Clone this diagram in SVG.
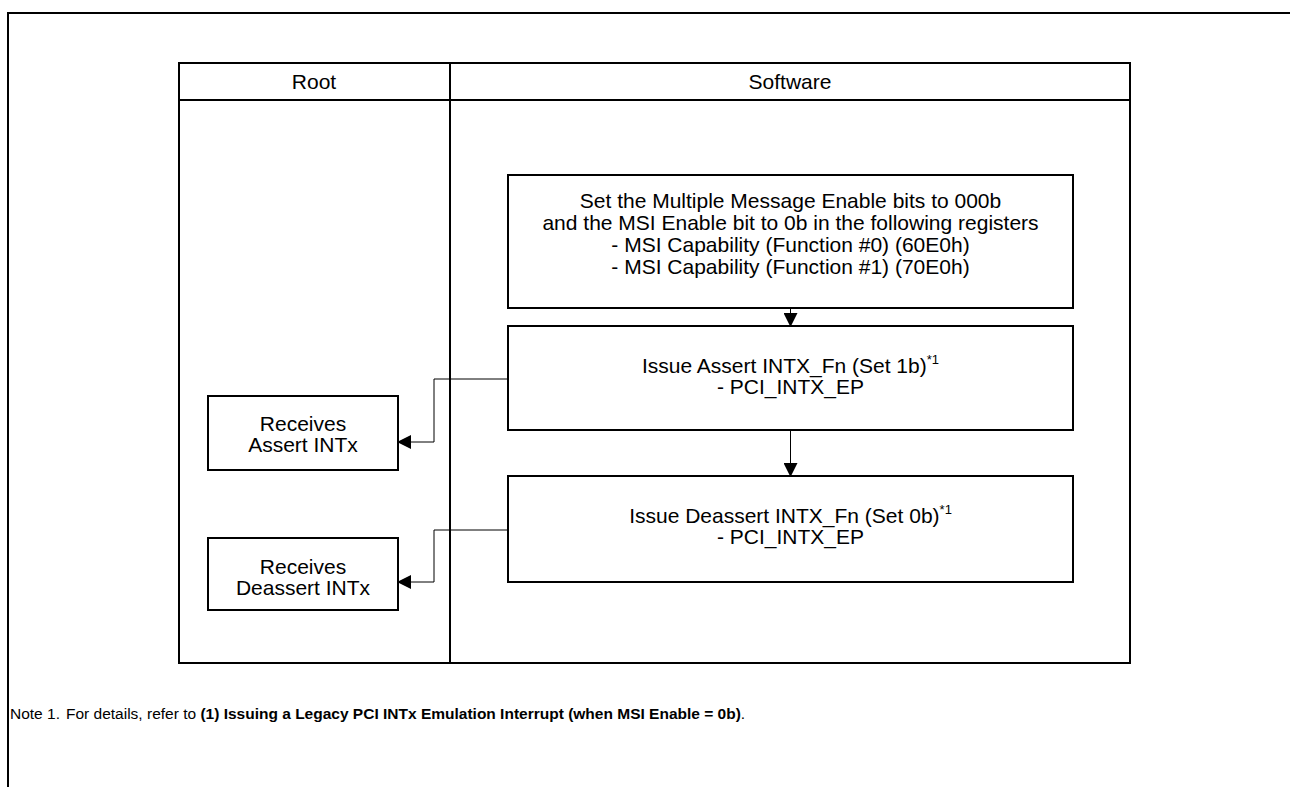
<svg xmlns="http://www.w3.org/2000/svg" width="1290" height="787" viewBox="0 0 1290 787">
<style>
.t{font-family:"Liberation Sans",Arial,sans-serif;font-size:21px;fill:#000;text-anchor:middle}
.n{font-family:"Liberation Sans",Arial,sans-serif;font-size:15.5px;fill:#000}
.b{fill:#fff;stroke:#000;stroke-width:2}
.c{fill:none;stroke:#000;stroke-width:1}
.f{fill:none;stroke:#000;stroke-width:2}
</style>
<defs>
<marker id="ah" markerWidth="14" markerHeight="14" refX="13" refY="7" orient="auto" markerUnits="userSpaceOnUse">
<path d="M0,0 L14,7 L0,14 Z" fill="#000"/>
</marker>
</defs>
<rect width="1290" height="787" fill="#fff"/>
<g id="frame">
<path class="f" d="M8,787 V13 H1290"/>
</g>
<g id="table">
<rect class="f" x="179" y="63" width="951" height="600"/>
<line class="f" x1="179" y1="100" x2="1130" y2="100"/>
<line class="f" x1="450" y1="63" x2="450" y2="663"/>
<text class="t" x="314" y="89">Root</text>
<text class="t" x="790" y="89">Software</text>
</g>
<g id="connectors">
<line class="c" x1="790.5" y1="308" x2="790.5" y2="326" marker-end="url(#ah)"/>
<line class="c" x1="790.5" y1="430" x2="790.5" y2="476" marker-end="url(#ah)"/>
<polyline class="c" points="508,379 434,379 434,442 398,442" marker-end="url(#ah)"/>
<polyline class="c" points="508,530 434,530 434,582 398,582" marker-end="url(#ah)"/>
</g>
<g id="set-msi">
<rect class="b" x="508" y="175" width="565" height="133"/>
<text class="t" x="790.5" y="208">Set the Multiple Message Enable bits to 000b</text>
<text class="t" x="790.5" y="230">and the MSI Enable bit to 0b in the following registers</text>
<text class="t" x="790.5" y="252">- MSI Capability (Function #0) (60E0h)</text>
<text class="t" x="790.5" y="274">- MSI Capability (Function #1) (70E0h)</text>
</g>
<g id="issue-assert">
<rect class="b" x="508" y="326" width="565" height="104"/>
<text class="t" x="790.5" y="373">Issue Assert INTX_Fn (Set 1b)<tspan font-size="13" dy="-9">*1</tspan></text>
<text class="t" x="790.5" y="394">- PCI_INTX_EP</text>
</g>
<g id="issue-deassert">
<rect class="b" x="508" y="476" width="565" height="106"/>
<text class="t" x="790.5" y="523">Issue Deassert INTX_Fn (Set 0b)<tspan font-size="13" dy="-9">*1</tspan></text>
<text class="t" x="790.5" y="544">- PCI_INTX_EP</text>
</g>
<g id="recv-assert">
<rect class="b" x="208" y="396" width="190" height="74"/>
<text class="t" x="303" y="431">Receives</text>
<text class="t" x="303" y="452">Assert INTx</text>
</g>
<g id="recv-deassert">
<rect class="b" x="208" y="538" width="190" height="72"/>
<text class="t" x="303" y="574">Receives</text>
<text class="t" x="303" y="595">Deassert INTx</text>
</g>
<g id="note">
<text class="n" x="10" y="719">Note 1.</text>
<text class="n" x="66" y="719">For details, refer to <tspan font-weight="bold">(1) Issuing a Legacy PCI INTx Emulation Interrupt (when MSI Enable = 0b)</tspan>.</text>
</g>
</svg>
